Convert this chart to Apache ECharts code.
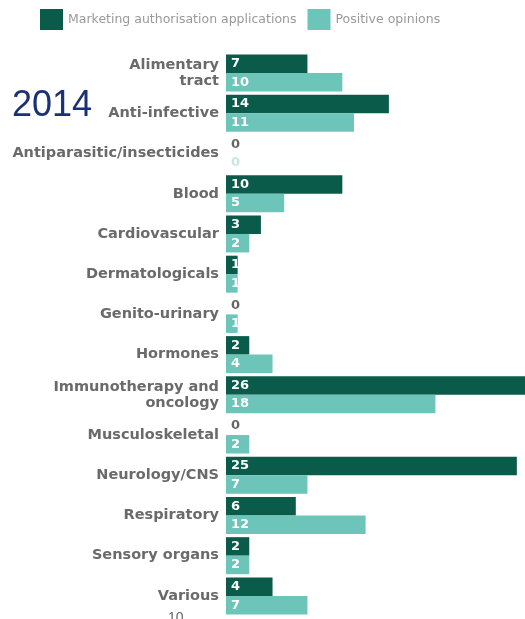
<!DOCTYPE html>
<html>
<head>
<meta charset="utf-8">
<script src="https://cdn.jsdelivr.net/npm/echarts@6/dist/echarts.min.js"></script>
<style>
  html, body { margin: 0; padding: 0; background: #fff; }
  #chart { width: 525px; height: 619px; }
</style>
</head>
<body>
<div id="chart"></div>
<script>
// 类别与数值
const categories = [
  'Alimentary\ntract', 'Anti-infective', 'Antiparasitic/insecticides', 'Blood',
  'Cardiovascular', 'Dermatologicals', 'Genito-urinary', 'Hormones',
  'Immunotherapy and\noncology', 'Musculoskeletal', 'Neurology/CNS',
  'Respiratory', 'Sensory organs', 'Various'
]
const applications = [7, 14, 0, 10, 3, 1, 0, 2, 26, 0, 25, 6, 2, 4]
const opinions = [10, 11, 0, 5, 2, 1, 1, 4, 18, 2, 7, 12, 2, 7]

const darkColor = '#0b5b4b'
const lightColor = '#6dc5b9'

// 0 值的标签放在轴旁边，用灰色显示
function toItems(values, zeroColor) {
  return values.map(v => (v === 0 ? { value: v, label: { color: zeroColor } } : v))
}

const chart = echarts.init(document.getElementById('chart'))

const barLabel = {
  show: true,
  position: 'insideLeft',
  distance: 5,
  color: '#fff',
  fontFamily: 'DejaVu Sans',
  fontWeight: 'bold',
  fontSize: 13,
  formatter: '{c}'
}

chart.setOption({
  animation: false,
  legend: {
    left: 35,
    top: 4,
    icon: 'rect',
    itemWidth: 23,
    itemHeight: 21,
    itemGap: 11,
    textStyle: { color: '#999', fontSize: 12.5, fontFamily: 'DejaVu Sans' },
    data: ['Marketing authorisation applications', 'Positive opinions']
  },
  grid: { left: 226, right: 0, top: 53, bottom: 3 },
  xAxis: {
    type: 'value',
    min: 0,
    max: 25.7,
    show: false
  },
  yAxis: {
    type: 'category',
    inverse: true,
    data: categories,
    axisLine: { show: false },
    axisTick: { show: false },
    axisLabel: {
      color: '#6a6a6a',
      fontFamily: 'DejaVu Sans',
      fontWeight: 'bold',
      fontSize: 14.5,
      lineHeight: 16,
      margin: 7
    }
  },
  series: [
    {
      name: 'Marketing authorisation applications',
      type: 'bar',
      data: toItems(applications, '#666'),
      itemStyle: { color: darkColor },
      barGap: '0%',
      barCategoryGap: '8%',
      label: barLabel
    },
    {
      name: 'Positive opinions',
      type: 'bar',
      data: toItems(opinions, '#c8e6e1'),
      itemStyle: { color: lightColor },
      label: barLabel
    }
  ],
  graphic: [
    {
      type: 'text',
      left: 12,
      top: 88,
      style: { text: '2014', fill: '#1a3175', fontSize: 36, fontFamily: 'Liberation Sans' }
    },
    {
      type: 'text',
      left: 168,
      top: 611,
      style: { text: '10', fill: '#666', fontSize: 14, fontFamily: 'Liberation Sans' }
    }
  ]
})
</script>
</body>
</html>
